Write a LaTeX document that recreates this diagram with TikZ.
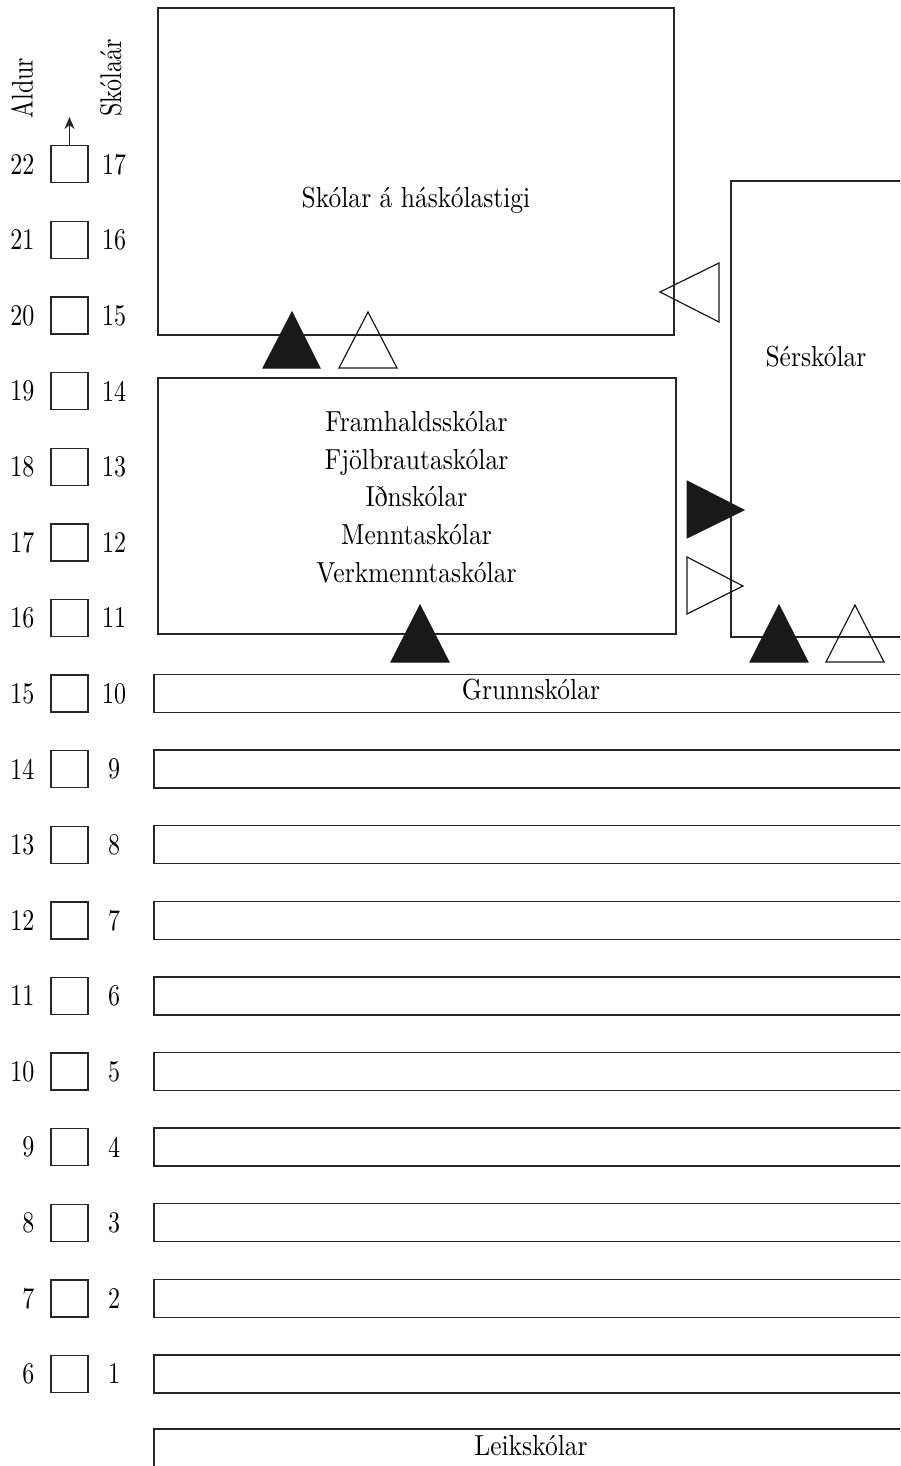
\documentclass[tikz,border=0pt]{standalone}
\usepackage{fontspec}
\usetikzlibrary{arrows.meta}
\newfontfamily\numfont{lmroman10-regular.otf}[FakeStretch=0.8]
\newfontfamily\boxfont{lmroman10-regular.otf}[FakeStretch=0.88]
\begin{document}
\begin{tikzpicture}[x=0.5pt,y=-0.5pt,line width=0.7pt,
    line/.style={draw=black!85},
    num/.style={font=\numfont\fontsize{15}{18}\selectfont, inner sep=0pt},
    lab/.style={font=\boxfont\fontsize{14.5}{18.9}\selectfont, align=center, inner sep=0pt},
    agebox/.style={draw=black!85, minimum size=18.5pt, inner sep=0pt},
    solidtri/.style={fill=black!90, draw=black!90, line width=0.5pt, line join=miter},
    opentri/.style={draw=black!90, line width=0.6pt, line join=miter}]
  \useasboundingbox (0,0) rectangle (900,1466);
  \clip (0,0) rectangle (900,1466);

  % column heads
  \node[num, rotate=90] (aldur) at (22,88) {Aldur};
  \node[num, rotate=90] (skolaar) at (111,78) {Skólaár};

  % age / school year rows
  \foreach \a in {6,...,22}{
    \pgfmathsetmacro\yy{693.5+(15-\a)*75.6}
    \pgfmathtruncatemacro\yr{\a-5}
    \node[agebox] (sq\a) at (69.5,\yy) {};
    \node[num, anchor=east] (age\a) at (35,\yy) {\a};
    \node[num] (yr\a) at (114,\yy) {\yr};
  }
  \coordinate (up) at (69.5,117);
  \draw[line, -{Stealth[length=6pt,width=5pt]}] (sq22.north) -- (up);

  % grunnskoli bars
  \foreach \a in {6,...,15}{
    \pgfmathsetmacro\yy{693.5+(15-\a)*75.6}
    \draw[line] (910,\yy-19) -- (154,\yy-19) -- (154,\yy+19) -- (910,\yy+19);
  }
  \node[lab] (grunn) at (531,690) {Grunnskólar};
  \draw[line] (910,1429) -- (154,1429) -- (154,1480);
  \node[lab] (leik) at (531,1446) {Leikskólar};

  % upper schools
  \draw[line] (158,8) rectangle (674,335);
  \node[lab] (hask) at (416,200) {Skólar á háskólastigi};
  \draw[line] (158,378) rectangle (676,634);
  \node[lab] (framh) at (416.5,497) {Framhaldsskólar\\Fjölbrautaskólar\\Iðnskólar\\Menntaskólar\\Verkmenntaskólar};
  \draw[line] (910,181) -- (731,181) -- (731,637) -- (910,637);
  \node[lab] (sersk) at (816,357) {Sérskólar};

  % paths between levels
  \draw[solidtri] (263,368) -- (292,312) -- (320,368) -- cycle;
  \draw[opentri] (339,368) -- (368,312) -- (397,368) -- cycle;
  \draw[opentri] (719,263) -- (660,292) -- (719,322) -- cycle;
  \draw[solidtri] (687,481) -- (744,510) -- (687,538) -- cycle;
  \draw[opentri] (687,557) -- (743,586) -- (687,614) -- cycle;
  \draw[solidtri] (391,662) -- (420,605) -- (449,662) -- cycle;
  \draw[solidtri] (750,662) -- (779,605) -- (808,662) -- cycle;
  \draw[opentri] (826,662) -- (855,605) -- (884,662) -- cycle;
\end{tikzpicture}
\end{document}
